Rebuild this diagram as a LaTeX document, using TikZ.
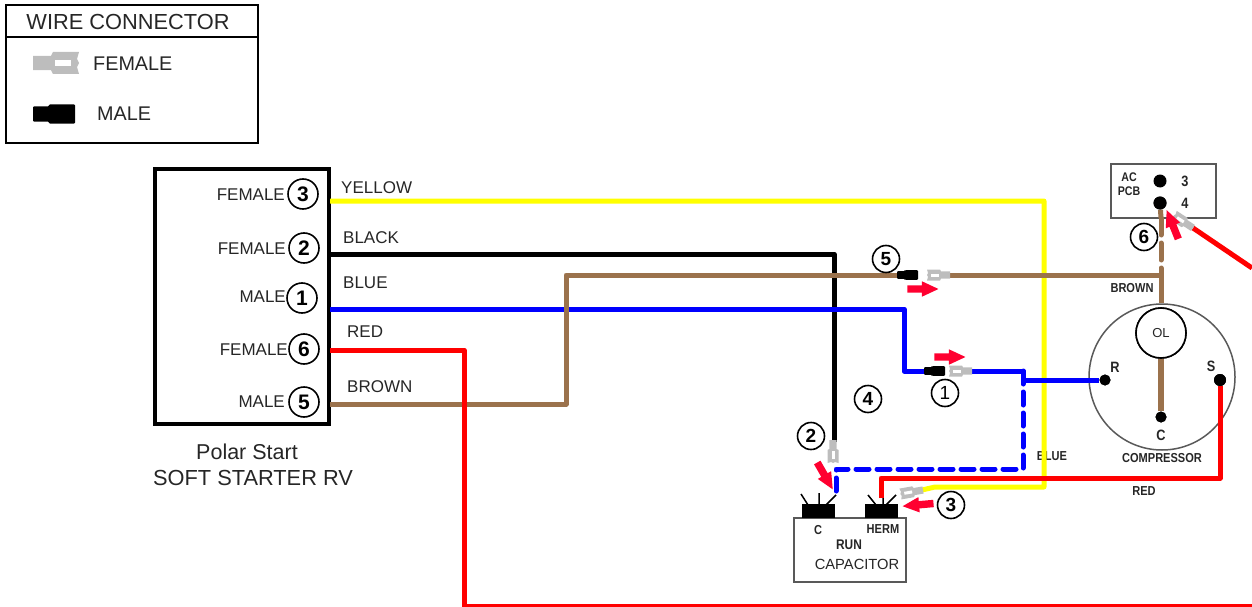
\documentclass[tikz,border=0pt]{standalone}
\usepackage{fontspec}
\setmainfont{Liberation Sans}
\usetikzlibrary{shapes.arrows}
\definecolor{wirebrown}{HTML}{9B724C}
\definecolor{pingray}{HTML}{BDBDBD}
\definecolor{boxgray}{HTML}{595959}
\definecolor{wireyellow}{HTML}{FFFF00}
\definecolor{arrowred}{HTML}{FF0030}
\tikzset{
x=1pt, y=-1pt, % coordinates are pixels of the sheet
wire/.style={line width=5pt, line join=round}, % all the coloured wires
dashwire/.style={wire, dash pattern=on 13pt off 8pt, line cap=round},
label/.style={font=\fontsize{17}{19}\selectfont, text=black!85, inner sep=0pt, yshift=-1pt},
tag/.style={font=\fontsize{13}{15}\selectfont\bfseries, text=black!85, inner sep=0pt, xscale=.85},
pinno/.style={circle, draw, line width=1.6pt, minimum size=30pt, inner sep=0pt, font=\fontsize{21}{23}\selectfont\bfseries},
callout/.style={pinno, minimum size=27pt, font=\fontsize{19}{21}\selectfont\bfseries},
terminal/.style={circle, fill=black, minimum size=#1, inner sep=0pt},
panel/.style={draw=boxgray, line width=1.6pt, fill=white, inner sep=0pt},
redarrow/.style={single arrow, fill=arrowred, inner sep=3.5pt, minimum height=31pt, single arrow head extend=4pt, single arrow tip angle=50},
malepin/.pic={
    \fill[black, rounded corners=1pt] (0,-3.8) -- (8,-3.8) -- (8,-4.8) -- (21,-4.8) -- (21,4.8) -- (8,4.8) -- (8,3.8) -- (0,3.8) -- cycle;
},
femalepin/.pic={
    \fill[pingray] (0,-3.6) -- (9,-3.6) -- (10,-5.5) -- (23,-5.5) -- (22,-2) -- (23,0) -- (22,2) -- (23,5.5) -- (10,5.5) -- (9,3.6) -- (0,3.6) -- cycle;
    \fill[white] (11,-1.5) rectangle (19,1.5);
},
}

\begin{document}
\begin{tikzpicture}
    \useasboundingbox (0,0) rectangle (1252,607);

    % legend
    \node[draw, line width=1.5pt, minimum width=252pt, minimum height=138pt, inner sep=0pt] (legend) at (132,74) {};
    \node[font=\fontsize{21.8}{24}\selectfont, text=black!85, inner sep=0pt] (legendtitle) at (128,22) {WIRE CONNECTOR};
    \draw[line width=1.5pt] (legend.west |- 0,37) -- (legend.east |- 0,37);
    \pic[scale=2] at (33,63) {femalepin};
    \pic[scale=2] at (33,114) {malepin};
    \node[label, font=\fontsize{19.8}{22}\selectfont, anchor=west] (legendfemale) at (93,63) {FEMALE};
    \node[label, font=\fontsize{19.8}{22}\selectfont, anchor=west] (legendmale) at (97,113) {MALE};

    % soft starter
    \node[draw, line width=4pt, minimum width=174pt, minimum height=255pt, inner sep=0pt] (starter) at (242,296.5) {};
    \node[pinno] (s3) at (303,194) {3};
    \node[pinno] (s2) at (304,248) {2};
    \node[pinno] (s1) at (302,298) {1};
    \node[pinno] (s6) at (304,349) {6};
    \node[pinno] (s5) at (304,402) {5};
    \node[label, anchor=east] (f3) at (285,194) {FEMALE};
    \node[label, anchor=east] (f2) at (286,248) {FEMALE};
    \node[label, anchor=east] (m1) at (286,296) {MALE};
    \node[label, anchor=east] (f6) at (288,349) {FEMALE};
    \node[label, anchor=east] (m5) at (285,401) {MALE};
    \node[font=\fontsize{21.5}{26}\selectfont, text=black!85, inner sep=0pt] (polar) at (247,452) {Polar Start};
    \node[font=\fontsize{21.8}{26}\selectfont, text=black!85, inner sep=0pt] (soft) at (253,478) {SOFT STARTER RV};
    \node[label, anchor=west] (ylabel) at (341,187) {YELLOW};
    \node[label, anchor=west] (klabel) at (343,237) {BLACK};
    \node[label, anchor=west] (blabel) at (343,282) {BLUE};
    \node[label, anchor=west] (rlabel) at (347,331) {RED};
    \node[label, anchor=west] (nlabel) at (347,386) {BROWN};

    % compressor
    \node[circle, draw=boxgray, line width=1.5pt, minimum size=146pt, inner sep=0pt] (comp) at (1162,377) {};
    \node[terminal=11pt] (termR) at (1105,380) {};
    \node[terminal=12pt] (termS) at (1220,380) {};
    \node[terminal=11pt] (termC) at (1161,417) {};
    \node[tag, font=\fontsize{15}{17}\selectfont\bfseries] (labelR) at (1115,367) {R};
    \node[tag, font=\fontsize{15}{17}\selectfont\bfseries] (labelS) at (1211,366) {S};
    \node[tag, font=\fontsize{15}{17}\selectfont\bfseries] (labelC) at (1161,435) {C};
    \node[tag] (labelcomp) at (1162,458) {COMPRESSOR};
    \node[tag] (labelblue) at (1052,456) {BLUE};
    \node[tag] (labelred) at (1144,491) {RED};
    \node[tag] (labelbrown) at (1132,288) {BROWN};

    % ac pcb
    \node[panel, minimum width=105pt, minimum height=54pt] (pcb) at (1163.5,191) {};
    \node[terminal=13pt] (pcb3) at (1160,181) {};
    \node[terminal=13pt] (pcb4) at (1160,203) {};
    \node[tag, font=\fontsize{12.5}{14}\selectfont\bfseries] (labelac) at (1129,177) {AC};
    \node[tag, font=\fontsize{12.5}{14}\selectfont\bfseries] (labelpcb) at (1129,191) {PCB};
    \node[tag, font=\fontsize{15}{17}\selectfont\bfseries] (label3) at (1185,181) {3};
    \node[tag, font=\fontsize{15}{17}\selectfont\bfseries] (label4) at (1185,203) {4};

    % run capacitor
    \node[panel, minimum width=112pt, minimum height=64pt] (cap) at (850,550) {};
    \node[fill=black, minimum width=33pt, minimum height=14pt, inner sep=0pt] (capC) at (818.5,511) {};
    \node[fill=black, minimum width=33pt, minimum height=14pt, inner sep=0pt] (capH) at (881.5,511) {};
    \draw[line width=1.5pt] (801,494) -- (808,505) (819,493) -- (819,505) (836,495) -- (826,505);
    \draw[line width=1.5pt] (868,495) -- (876,505) (883,493) -- (883,505) (896,495) -- (886,505);
    \node[tag] (labelcapC) at (818,530) {C};
    \node[tag] (labelherm) at (883,529) {HERM};
    \node[tag, font=\fontsize{14}{16}\selectfont\bfseries] (labelrun) at (849,545) {RUN};
    \node[label, font=\fontsize{14.7}{17}\selectfont] (labelcap) at (857,563) {CAPACITOR};

    % wire corners and loose ends
    \coordinate (y0) at (330,201);
    \coordinate (y1) at (1044,201);
    \coordinate (y2) at (1044,487);
    \coordinate (y3) at (935,487);
    \coordinate (y4) at (922,490);
    \coordinate (k0) at (330,254);
    \coordinate (k1) at (834,254);
    \coordinate (k2) at (834,442);
    \coordinate (b0) at (330,309);
    \coordinate (b1) at (904,309);
    \coordinate (b2) at (904,371);
    \coordinate (b3) at (924,371);
    \coordinate (b4) at (972,371);
    \coordinate (b5) at (1023,371);
    \coordinate (b6) at (1023,380);
    \coordinate (b7) at (1023,469);
    \coordinate (b8) at (836,469);
    \coordinate (b9) at (836,496);
    \coordinate (r0) at (330,350);
    \coordinate (r1) at (464,350);
    \coordinate (r2) at (464,606);
    \coordinate (r3) at (1252,606);
    \coordinate (r4) at (1252,268);
    \coordinate (r5) at (1193,228);
    \coordinate (r6) at (881,498);
    \coordinate (r7) at (881,478);
    \coordinate (r8) at (1220,478);
    \coordinate (n0) at (330,404);
    \coordinate (n1) at (566,404);
    \coordinate (n2) at (566,275);
    \coordinate (n3) at (897,275);
    \coordinate (n4) at (950,275);
    \coordinate (n5) at (1161,275);
    \coordinate (n6) at (1161,218);

    % wires
    \draw[wire, wireyellow] (y0) -- (y1) -- (y2) -- (y3) -- (y4);
    \draw[wire, black] (k0) -- (k1) -- (k2);
    \draw[wire, blue] (b0) -- (b1) -- (b2) -- (b3);
    \draw[wire, blue] (b4) -- (b5) -- (b6) -- (termR);
    \draw[dashwire, blue] (b5) -- (b7) -- (b8) -- (b9);
    \draw[wire, wirebrown] (n0) -- (n1) -- (n2) -- (n3);
    \draw[wire, wirebrown] (n4) -- (n5);
    \draw[wire, red] (r0) -- (r1) -- (r2) -- (r3);
    \draw[wire, red] (r4) -- (r5);
    \draw[wire, red] (r6) -- (r7) -- (r8) -- (termS);
    \draw[wire, wirebrown] (pcb4) -- (n6);
    \draw[dashwire, wirebrown, dash pattern=on 17pt off 8pt] (n6) -- (n5);
    \draw[wire, wirebrown] (n5) -- (comp.north -| n5);
    \node[circle, draw, fill=white, line width=1.6pt, minimum size=50pt, inner sep=0pt, font=\fontsize{13}{15}\selectfont, text=black!85] (ol) at (1161,333) {OL};
    \draw[wire, wirebrown, line width=5.5pt] (ol) -- (termC);
    \node[circle, draw, fill=white, line width=1.6pt, minimum size=50pt, inner sep=0pt, font=\fontsize{13}{15}\selectfont, text=black!85] at (ol) {OL};
    \node[terminal=11pt] at (termC) {};
    \node[terminal=11pt] at (termR) {};
    \node[terminal=12pt] at (termS) {};
    \node[terminal=13pt] at (pcb4) {};

    % connectors along the wires
    \pic at (897,275) {malepin};
    \pic[rotate=180] at (950,275) {femalepin};
    \pic at (924,371) {malepin};
    \pic[rotate=180] at (972,371) {femalepin};
    \pic[rotate=-90] at (833,440) {femalepin};
    \pic[rotate=190] at (923,490) {femalepin};
    \pic[rotate=147] at (1193,228) {femalepin};

    % callouts and red arrows
    \node[callout] (c5) at (886,259) {5};
    \node[callout, font=\fontsize{19}{21}\selectfont] (c1) at (945,393) {1};
    \node[callout] (c4) at (868,399) {4};
    \node[callout] (c2) at (811,436) {2};
    \node[callout] (c3) at (951,505) {3};
    \node[callout] (c6) at (1144,237) {6};
    \node[redarrow] (a5) at (919,289) {};
    \node[redarrow] (a1) at (946,357) {};
    \node[redarrow, rotate=-60] (a2) at (823,472.5) {};
    \node[redarrow, rotate=185] (a3) at (922,504.5) {};
    \node[redarrow, rotate=112] (a6) at (1174,228.2) {};
\end{tikzpicture}
\end{document}
